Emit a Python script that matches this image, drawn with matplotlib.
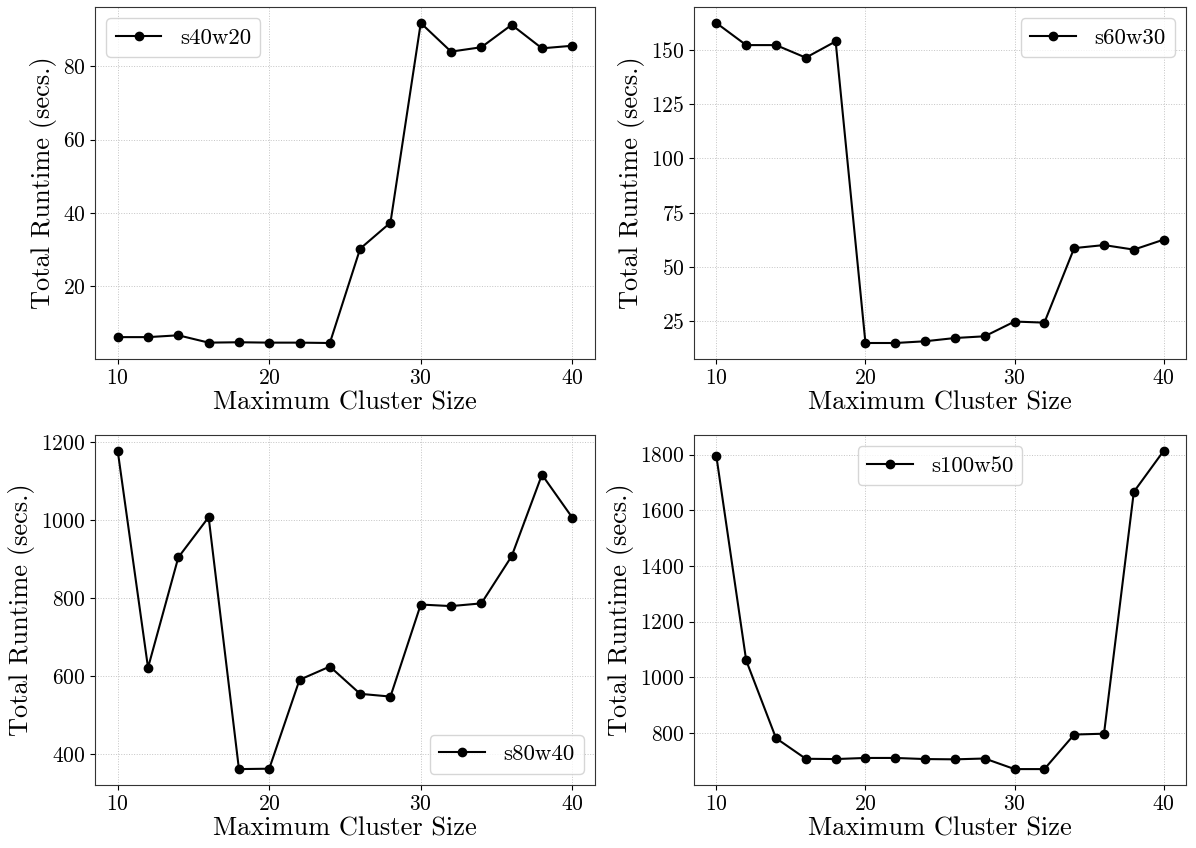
import matplotlib
matplotlib.use('Agg')
import matplotlib.pyplot as plt

plt.rcParams['font.family'] = 'serif'
plt.rcParams['font.serif'] = ['cmr10', 'DejaVu Serif']
plt.rcParams['mathtext.fontset'] = 'cm'
plt.rcParams['axes.formatter.use_mathtext'] = True

cluster_sizes = [10, 12, 14, 16, 18, 20, 22, 24, 26, 28, 30, 32, 34, 36, 38, 40]

s40w20 = [6.2, 6.2, 6.7, 4.7, 4.8, 4.7, 4.7, 4.6, 30.3, 37.4,
          91.8, 84.0, 85.2, 91.3, 84.9, 85.6]
s60w30 = [162.5, 152.3, 152.3, 146.5, 154.0, 14.8, 14.8, 15.6, 17.1, 17.9,
          24.7, 24.2, 58.6, 60.0, 57.9, 62.5]
s80w40 = [1178, 622, 905, 1008, 362, 363, 591, 625, 555, 548,
          784, 780, 787, 908, 1117, 1007]
s100w50 = [1794, 1061, 782, 708, 707, 711, 711, 707, 706, 709,
           671, 671, 795, 798, 1666, 1813]

series = [('s40w20', s40w20, 'upper left'),
          ('s60w30', s60w30, 'upper right'),
          ('s80w40', s80w40, 'lower right'),
          ('s100w50', s100w50, 'upper center')]

fig = plt.figure(figsize=(11.96, 8.48), dpi=100)
W, H = 1196.0, 848.0
# pixel boxes: left, top, right, bottom
boxes = [(95, 7, 595, 359), (694, 7, 1186, 359),
         (95, 435, 595, 785), (694, 435, 1186, 785)]

for (name, vals, loc), (l, t, r, b) in zip(series, boxes):
    ax = fig.add_axes([l / W, 1 - b / H, (r - l) / W, (b - t) / H])
    ax.plot(cluster_sizes, vals, 'k-o', markersize=6, linewidth=1.5, label=name)
    ax.grid(True, linestyle=':', linewidth=0.7, color='#c4c4c4')
    ax.set_axisbelow(True)
    ax.set_xticks([10, 20, 30, 40])
    ax.tick_params(labelsize=15.5)
    ax.set_xlabel('Maximum Cluster Size', fontsize=19, labelpad=2)
    ax.set_ylabel('Total Runtime (secs.)', fontsize=19, labelpad=4)
    ax.legend(loc=loc, fontsize=16.5, handlelength=2.0)
    for sp in ax.spines.values():
        sp.set_color('#333333')

fig.savefig('out.png', dpi=100)
